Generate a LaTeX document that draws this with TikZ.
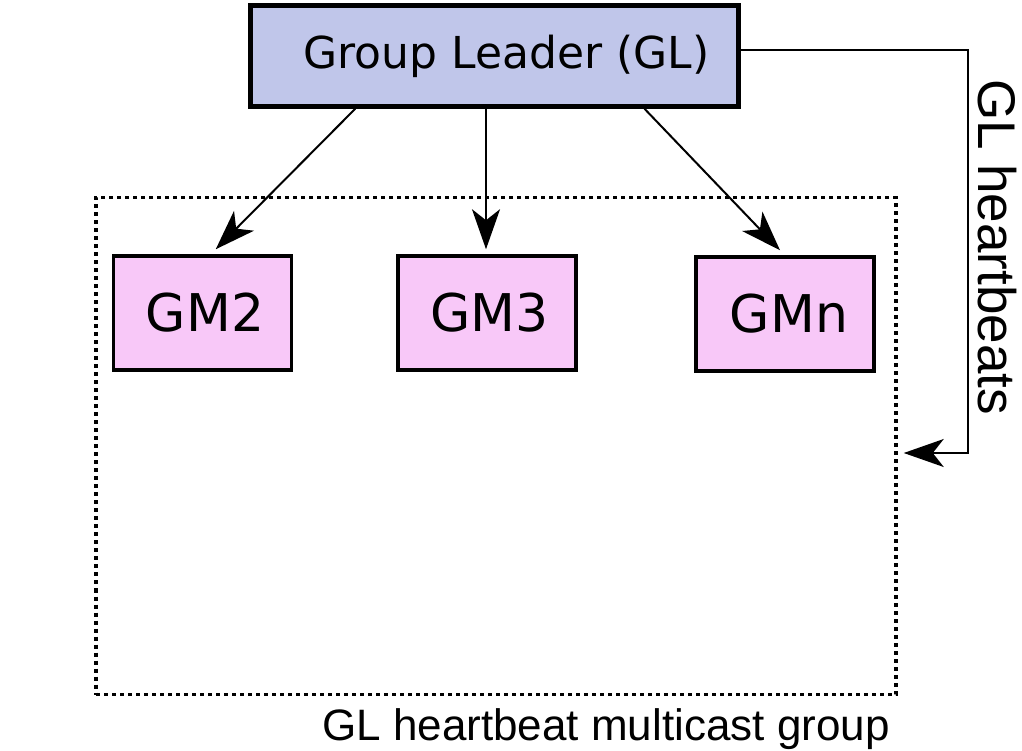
\documentclass[tikz,border=0pt]{standalone}
\usepackage{fontspec}
\setmainfont{DejaVu Sans}
\newfontfamily\labelfont{Liberation Sans}
\usepackage{xcolor}
\usetikzlibrary{arrows.meta, positioning}
\definecolor{leaderblue}{HTML}{C0C6EA}
\definecolor{memberpink}{HTML}{F8C8F8}

\begin{document}
\begin{tikzpicture}[x=1pt,y=-1pt,
        leader/.style={draw=black, line width=4.5pt, fill=leaderblue,
                minimum width=488pt, minimum height=101pt, inner sep=0pt,
                font=\fontsize{44}{52}\selectfont},
        member/.style={draw=black, line width=3.5pt, fill=memberpink,
                minimum width=178pt, minimum height=114pt, inner sep=0pt,
                font=\fontsize{52}{60}\selectfont},
        mcast/.style={draw=black, line width=3.5pt, dash pattern=on 4pt off 4pt,
                minimum width=800pt, minimum height=497pt, inner sep=0pt},
        >={Stealth[length=40pt, width=28pt, inset=11pt]}]
        \useasboundingbox (0,0) rectangle (1022,751);
        \node[mcast] (group) at (496,446) {};
        \node[leader] (gl) at (494.5,56) {\hspace*{24pt}Group Leader (GL)};
        \node[member] (gm2) at (202.5,313) {\hspace*{5pt}GM2};
        \node[member] (gm3) at (487,313) {\hspace*{5pt}GM3};
        \node[member] (gmn) at (785,314) {\hspace*{8pt}GMn};
        \coordinate (beat) at (968,50);
        \node[font=\labelfont\fontsize{53}{60}\selectfont, rotate=-90]
                (beatlabel) at (997,247) {GL heartbeats};
        \node[font=\labelfont\fontsize{44}{52}\selectfont, anchor=base]
                (grouplabel) at (606,740) {GL heartbeat multicast group};
	\draw[line width=2pt, ->]
			([xshift=107pt]gl.south west) -- ([xshift=104pt,yshift=5pt]gm2.north west);
	\draw[line width=2pt, ->]
			([xshift=-8.5pt]gl.south) -- ([xshift=-1pt,yshift=5pt]gm3.north);
	\draw[line width=2pt, ->]
			([xshift=150pt]gl.south) -- ([xshift=-5pt,yshift=5pt]gmn.north);
	\draw[line width=2pt, ->]
			([yshift=6pt]gl.east) -- (beat) |- ([shift={(6pt,-7pt)}]group.east);
\end{tikzpicture}
\end{document}
